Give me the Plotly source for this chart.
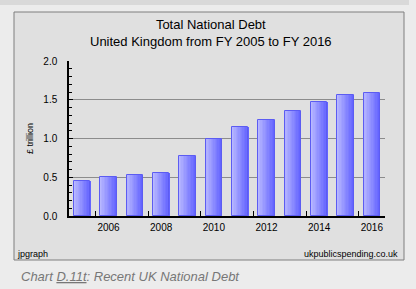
import plotly.graph_objects as go

years = [2005, 2006, 2007, 2008, 2009, 2010, 2011, 2012, 2013, 2014, 2015, 2016]
debt = [0.45, 0.50, 0.53, 0.56, 0.78, 1.00, 1.15, 1.24, 1.36, 1.47, 1.56, 1.59]
xtick_labels = ["2006", "2008", "2010", "2012", "2014", "2016"]
xtick_vals = [2006, 2008, 2010, 2012, 2014, 2016]

W, H = 416, 289
L, R, T, B = 69, 385, 61, 216  # plot area in pixels

def px(x):
    return (x - L) / (R - L)

def py(y):
    return (B - y) / (B - T)

FONT = "Liberation Sans, Arial, sans-serif"

fig = go.Figure()

# gradient bars: slices from light (left) to dark (right)
N = 12
bw = 0.63
c0 = (184, 184, 255)
c1 = (100, 100, 255)
for i in range(N):
    t = i / (N - 1)
    col = "rgb(%d,%d,%d)" % tuple(round(a + (b - a) * t) for a, b in zip(c0, c1))
    fig.add_trace(go.Bar(
        x=years, y=debt, width=bw / N + 0.005, offset=-bw / 2 + i * bw / N,
        marker=dict(color=col, line=dict(width=0)), showlegend=False, hoverinfo="skip"))
fig.add_trace(go.Bar(
    x=years, y=debt, width=bw, offset=-bw / 2,
    marker=dict(color="rgba(0,0,0,0)", line=dict(color="#5c5cf2", width=1)),
    showlegend=False))

fig.update_layout(
    width=W, height=H,
    margin=dict(l=L, r=W - R, t=T, b=H - B, pad=0),
    paper_bgcolor="#ececec", plot_bgcolor="white",
    barmode="overlay", bargap=0,
    font=dict(family=FONT, size=10, color="black"),
    xaxis=dict(
        range=[2004.5, 2016.5], tickmode="array", tickvals=xtick_vals, ticktext=xtick_labels,
        ticks="", showgrid=False, zeroline=False,
        showline=True, linecolor="black", linewidth=1.5,
        tickfont=dict(size=10), ticklabelstandoff=1,
        minor=dict(tickmode="array", tickvals=[y - 0.5 for y in xtick_vals],
                   ticks="inside", ticklen=5, tickcolor="black", tickwidth=1, showgrid=False),
    ),
    yaxis=dict(
        range=[0, 2.0], tickmode="linear", tick0=0, dtick=0.5, tickformat=".1f",
        ticks="inside", ticklen=4, tickcolor="black",
        showgrid=True, gridcolor="#8c8c8c", gridwidth=1, zeroline=False,
        showline=True, linecolor="black", linewidth=1.5,
        tickfont=dict(size=10), ticklabelstandoff=8,
        minor=dict(dtick=0.1, ticks="inside", ticklen=3, tickcolor="black", showgrid=False),
        title=dict(text="£ trillion", font=dict(size=9), standoff=8),
    ),
    shapes=[
        dict(type="rect", xref="paper", yref="paper", x0=px(0), x1=px(409), y0=py(0), y1=py(5),
             fillcolor="#d9d9d9", line=dict(width=0), layer="below"),
        dict(type="rect", xref="paper", yref="paper", x0=px(14), x1=px(404), y0=py(12), y1=py(260),
             fillcolor="#e0e0e0", line=dict(color="#7f7f7f", width=1), layer="below"),
    ],
    annotations=[
        dict(text="Total National Debt<br>United Kingdom from FY 2005 to FY 2016",
             xref="paper", yref="paper", x=px(211), y=py(15), xanchor="center", yanchor="top",
             showarrow=False, font=dict(size=13), align="center"),
        dict(text="jpgraph", xref="paper", yref="paper", x=px(15), y=py(254),
             xanchor="left", yanchor="middle", showarrow=False, font=dict(size=9)),
        dict(text="ukpublicspending.co.uk", xref="paper", yref="paper", x=px(400), y=py(254),
             xanchor="right", yanchor="middle", showarrow=False, font=dict(size=9)),
        dict(text="<i>Chart <u>D.11t</u>: Recent UK National Debt</i>", xref="paper", yref="paper",
             x=px(19), y=py(276), xanchor="left", yanchor="middle", showarrow=False,
             font=dict(size=13, color="#777777")),
    ],
)

fig.write_html("out.html")
